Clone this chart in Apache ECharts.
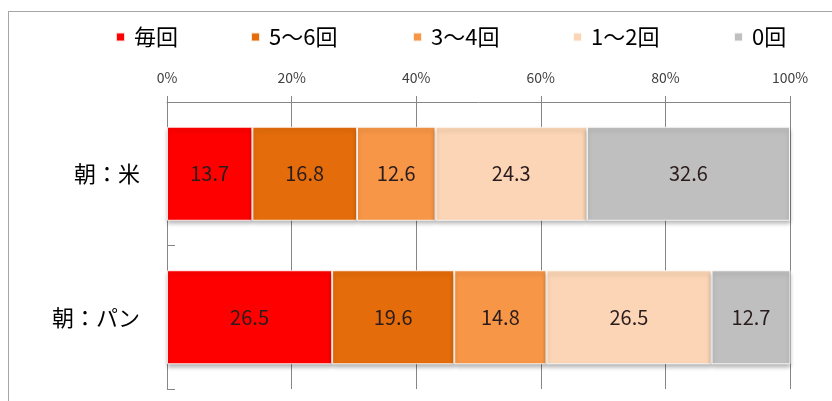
<!DOCTYPE html>
<html>
<head>
<meta charset="utf-8">
<script src="https://cdn.jsdelivr.net/npm/echarts@6/dist/echarts.min.js"></script>
<style>
  html, body { margin: 0; padding: 0; background: #fff; }
  #frame { position: absolute; left: 8px; top: 11px; width: 900px; height: 500px; border-left: 1px solid #a6a6a6; border-top: 1px solid #a6a6a6; }
  #chart { position: absolute; left: 0; top: 0; width: 832px; height: 401px; }
</style>
</head>
<body>
<div id="frame"></div>
<div id="chart"></div>
<script>
const categories = ['朝：米', '朝：パン'];
const seriesNames = ['毎回', '5～6回', '3～4回', '1～2回', '0回'];
const everyTime = [13.7, 26.5];
const fiveSix = [16.8, 19.6];
const threeFour = [12.6, 14.8];
const oneTwo = [24.3, 26.5];
const zeroTimes = [32.6, 12.7];
const xTicks = [0, 20, 40, 60, 80, 100];

const colors = ['#ff0000', '#e46c0a', '#f79646', '#fbd5b5', '#bfbfbf'];
const values = [everyTime, fiveSix, threeFour, oneTwo, zeroTimes];
const legendLeft = [115, 250, 412, 572, 733];
const FONT = '"Noto Sans CJK JP", "Noto Sans", sans-serif';

const chart = echarts.init(document.getElementById('chart'), null, { renderer: 'canvas' });

const series = seriesNames.map((name, i) => ({
  name: name,
  type: 'bar',
  stack: 'total',
  barCategoryGap: '34.5%',
  data: values[i],
  itemStyle: {
    color: colors[i],
    borderColor: 'rgba(255,255,255,0.85)',
    borderWidth: 1,
    shadowColor: 'rgba(0,0,0,0.28)',
    shadowBlur: 4,
    shadowOffsetY: 3
  },
  label: {
    show: true,
    position: 'inside',
    formatter: p => p.value.toFixed(1),
    color: '#2a1c1c',
    fontFamily: FONT,
    fontSize: 20
  },
  emphasis: { disabled: true }
}));

const legends = seriesNames.map((name, i) => ({
  data: [name],
  left: legendLeft[i],
  top: 26,
  padding: 0,
  itemWidth: 9,
  itemHeight: 9,
  itemGap: 0,
  icon: 'rect',
  textStyle: { fontFamily: FONT, fontSize: 22, color: '#000', padding: [0, 0, 0, 4] },
  selectedMode: false
}));

chart.setOption({
  backgroundColor: 'transparent',
  animation: false,
  legend: legends,
  grid: { left: 167, right: 42, top: 102, bottom: 12, containLabel: false },
  xAxis: {
    type: 'value',
    position: 'top',
    min: xTicks[0],
    max: xTicks[xTicks.length - 1],
    interval: xTicks[1] - xTicks[0],
    axisLine: { show: true, lineStyle: { color: '#868686', width: 1 } },
    axisTick: { show: true, length: 6, lineStyle: { color: '#868686' } },
    splitLine: { show: true, lineStyle: { color: '#868686', width: 1 } },
    axisLabel: { formatter: '{value}%', margin: 17, fontFamily: FONT, fontSize: 14, color: '#404040' }
  },
  yAxis: {
    type: 'category',
    inverse: true,
    data: categories,
    axisLine: { show: true, lineStyle: { color: '#868686', width: 1 } },
    axisTick: { show: true, inside: true, length: 8, lineStyle: { color: '#868686' } },
    axisLabel: { margin: 27, fontFamily: FONT, fontSize: 22, color: '#000' }
  },
  series: series
});
</script>
</body>
</html>
